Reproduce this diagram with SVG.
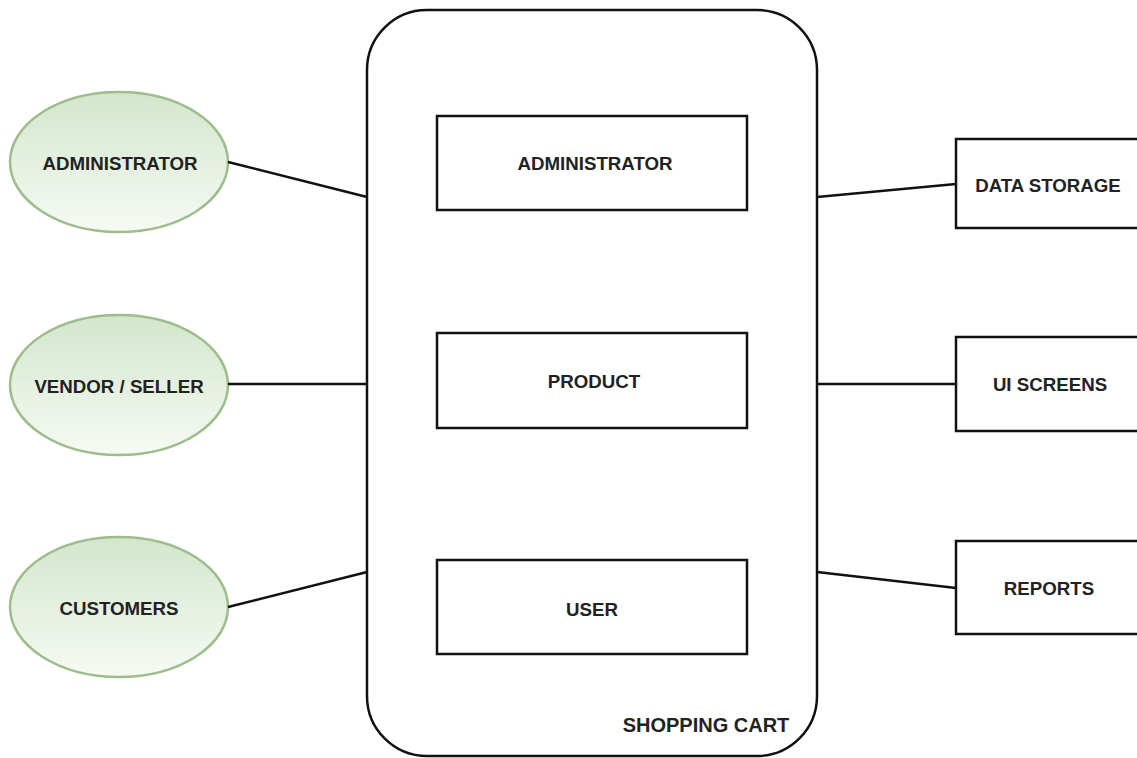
<svg xmlns="http://www.w3.org/2000/svg" width="1137" height="758" viewBox="0 0 1137 758">
<defs>
<linearGradient id="g" x1="0" y1="0" x2="0" y2="1">
<stop offset="0" stop-color="#d3e6cc"/>
<stop offset="1" stop-color="#f6faf4"/>
</linearGradient>
<style>
.t{font-family:"Liberation Sans",Arial,sans-serif;font-weight:bold;font-size:18.7px;fill:#222;text-anchor:middle;dominant-baseline:central}
.b{fill:#fff;stroke:#111;stroke-width:2.5}
.e{fill:url(#g);stroke:#9dbd8c;stroke-width:2.5}
.c{stroke:#111;stroke-width:2.5;fill:none}
</style>
</defs>
<rect width="1137" height="758" fill="#fff"/>
<g id="cart">
<rect class="b" x="367" y="10" width="450" height="746" rx="60" ry="60"/>
<text class="t" x="706" y="725" style="font-size:20px">SHOPPING CART</text>
</g>
<g id="in-admin"><rect class="b" x="437" y="116" width="310" height="94"/><text class="t" x="595" y="163.5">ADMINISTRATOR</text></g>
<g id="in-product"><rect class="b" x="437" y="333" width="310" height="95"/><text class="t" x="594" y="381.5">PRODUCT</text></g>
<g id="in-user"><rect class="b" x="437" y="560" width="310" height="94"/><text class="t" x="592" y="609">USER</text></g>
<g id="e-admin"><ellipse class="e" cx="119" cy="162" rx="109" ry="70"/><text class="t" x="120" y="163">ADMINISTRATOR</text></g>
<g id="e-vendor"><ellipse class="e" cx="119" cy="385" rx="109" ry="70"/><text class="t" x="119" y="386.5">VENDOR / SELLER</text></g>
<g id="e-cust"><ellipse class="e" cx="119" cy="607" rx="109" ry="70"/><text class="t" x="119" y="608">CUSTOMERS</text></g>
<g id="r-data"><rect class="b" x="956" y="139" width="190" height="89"/><text class="t" x="1048" y="185">DATA STORAGE</text></g>
<g id="r-ui"><rect class="b" x="956" y="337" width="190" height="94"/><text class="t" x="1050" y="384">UI SCREENS</text></g>
<g id="r-rep"><rect class="b" x="956" y="541" width="190" height="93"/><text class="t" x="1049" y="588">REPORTS</text></g>
<g id="connectors">
<line class="c" x1="228" y1="162" x2="367" y2="197"/>
<line class="c" x1="228" y1="384" x2="367" y2="384"/>
<line class="c" x1="228" y1="607" x2="367" y2="572"/>
<line class="c" x1="817" y1="197" x2="956" y2="184"/>
<line class="c" x1="817" y1="384" x2="956" y2="384"/>
<line class="c" x1="817" y1="572" x2="956" y2="588"/>
</g>
</svg>
